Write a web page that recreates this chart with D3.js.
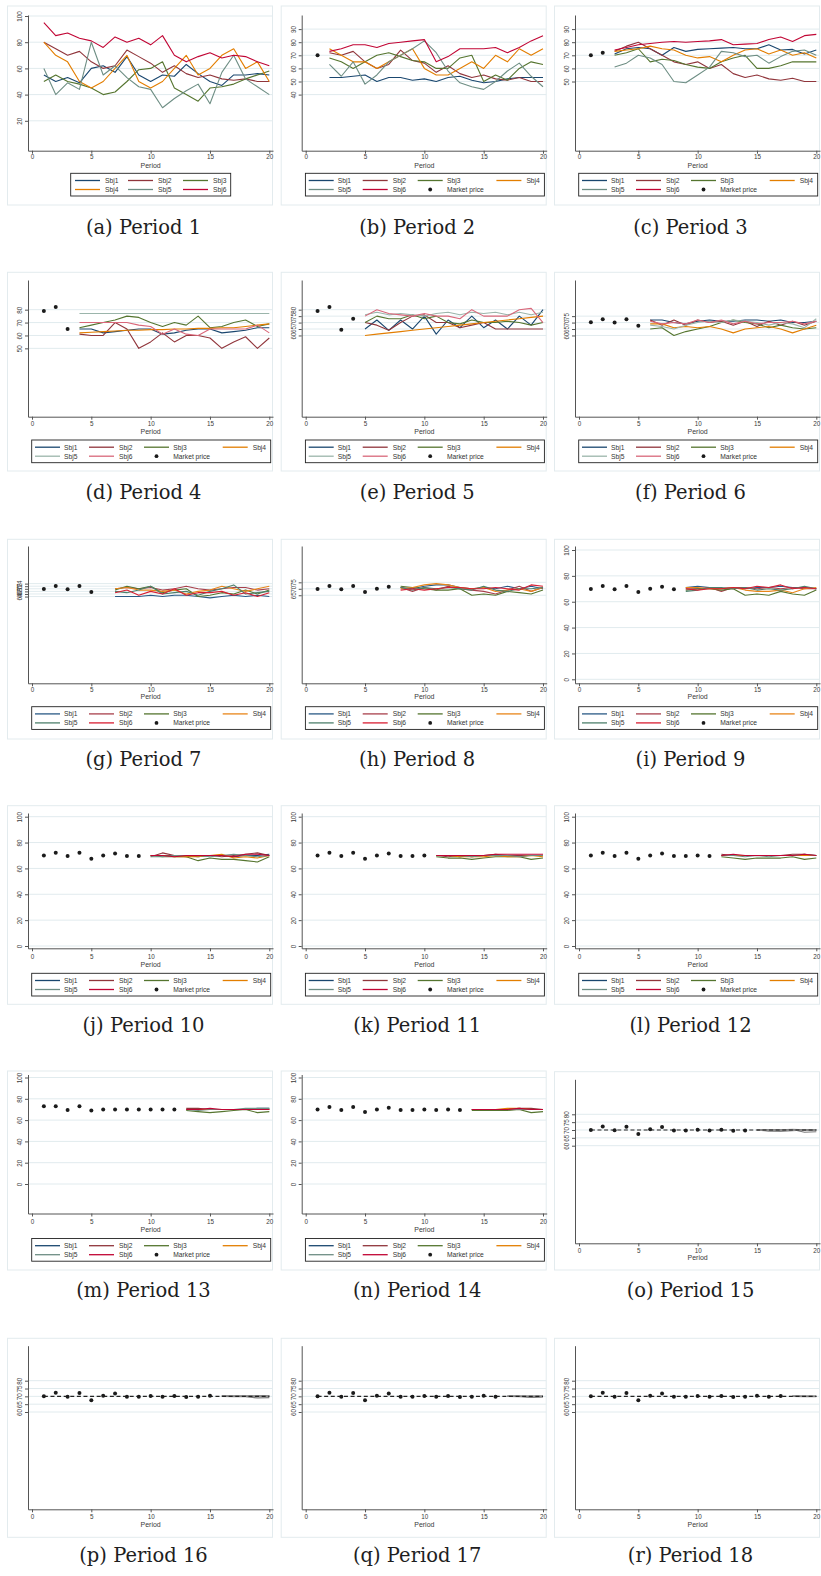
<!DOCTYPE html>
<html><head><meta charset="utf-8">
<script src="https://cdn.jsdelivr.net/npm/d3@7"></script>
<style>body{margin:0;background:#fff} svg{display:block}</style>
</head><body>
<svg id="chart" width="821" height="1576"></svg>
<script>
// ---------------- DATA ----------------
const subjects = ["Sbj1","Sbj2","Sbj3","Sbj4","Sbj5","Sbj6"];
const marketLabel = "Market price";
const xTicks = [0,5,10,15,20];
const equilibriumPrice = 70;

// Period 1 (subjects from period 1)
const period1 = [
  [55,50,53,49,60,62,57,69,55,50,55,54,63,56,50,47,55,55,56,55],
  [80,75,70,73,65,60,62,74,69,64,57,62,56,53,55,52,51,52,50,50],
  [50,55,50,48,45,40,42,50,59,60,65,45,40,35,45,46,48,52,55,58],
  [80,70,65,50,45,50,60,70,50,45,50,60,70,55,60,70,75,60,65,50],
  [60,40,49,44,80,55,62,53,46,44,30,37,43,48,33,57,70,52,46,40],
  [95,85,87,83,81,76,84,80,83,78,85,70,65,69,72,68,70,69,65,62]
];
const market1 = [];
const yTicks1 = [20,40,60,80,100];

const period2 = [
  [53,53,54,55,50,53,53,51,52,50,53,54,51,49,50,52,53,53,53],
  [72,70,73,65,60,63,74,66,64,57,62,56,53,55,52,51,53,50,50],
  [68,65,60,65,70,72,69,66,65,60,60,68,70,50,55,51,60,65,63],
  [75,70,65,65,60,65,70,75,60,55,55,60,65,60,70,65,75,70,75],
  [63,54,65,48,55,65,70,75,81,72,58,49,46,44,50,58,64,54,46],
  [73,75,78,78,76,79,80,81,82,65,69,75,75,75,76,72,76,81,85]
];
const market2 = [70];
const yTicks2 = [40,50,60,70,80,90];

const period3 = [
  [71,75,76,75,70,76,73,74.5,75,75.5,76,75,75,78,74,74.5,71,74],
  [73,77,80,75,70,65,63,65,60,63,56,53,55,52,51,52.5,50,50],
  [70,72,75,65,67,66,63,61,60,65,68,70,60,60,62,65,65,65],
  [73,74,75,77,75,74,70,68,69,65,70,74,75,71,74,70,72,68],
  [61,64,70,68,63,50,49,55,61,73,72,69,70,64,69,73,74,70],
  [74,76,78,79,80,80.5,80,80.5,81,82,78,78.5,79,82,84,80.5,85,86]
];
const market3 = [70,72];
const yTicks3 = [50,60,70,80,90];

const period4 = [
  [65,65,62,63,64,65,65,61,62,64,65,65,62,63,64,66,66],
  [61,60,60,70,65,50,55,62,55,60,60,58,50,55,59,50,58],
  [66,68,70,72,75,74,70,67,70,68,75,66,67,70,72,67,69],
  [62,62.5,63,63.5,64,64,64.5,64.5,65,65,65.5,65.5,66,66,67,68,69],
  [77,77,77,77,77,77,77,77,77,77,77,77,77,77,77,77,77],
  [70,70,70,70,70,68,67,61,65,61,60,65,65,65,65,68,62]
];
const market4 = [79,82,65];
const yTicks4 = [50,60,70,80];

const period5 = [
  [65,72,64,72,65,75,61,72,66,75,66,72,65,75,68,80],
  [70,68,64,70,75,76,70,70,66,68,70,65,65,65,65,65],
  [70,75,73,73,76,73,75,70,69,72,70,70,71,70,68,70],
  [60,61,62,63,64,65,66,67,68,69,70,71,72,73,74,75],
  [76,78,76,77,76,75,77,78,76,78,77,78,76,78,76,78],
  [75,80,77,76,75,77,75,75,73,80,75,75,75,80,81,70]
];
const market5 = [79,82,64.5,73];
const yTicks5 = [60,65,70,75,80];

const period6 = [
  [72,72,70,69,71,72,71,71,72,72,71,72,70,70,71],
  [72,68,72,68,72,70,71,68,71,67,71,68,71,68,71],
  [65,66,60,63,65,67,70,72,70,69,66,68,66,65,66],
  [69,69,66,67,66,67,65,62,65,66,67,65,62,65,68],
  [68,67,65,68,70,71,70,72,71,70,68,70,69,66,73],
  [71,69,70,69,72,70,72,69,71,69,70,70,71,69,71]
];
const market6 = [70.3,72.6,70,72.6,67.6];
const yTicks6 = [60,65,70,75];

const period7 = [
  [64,64,64,65,64,65,65,64,63,64,65,64,65,64],
  [70,71,70,71,69,70,72,70,69,70,71,71,69,70],
  [69,72,70,72,67,69,70,64,65,67,66,69,66,69],
  [70,71,69,69,68,69,66,68,69,72,70,68,70,72],
  [68,67,69,72,66,67,68,65,68,70,73,66,67,68],
  [67,69,65,68,66,70,65,67,67,68,65,67,64,67]
];
const market7 = [69.8,72.2,69.6,72.2,67.5];
const yTicks7 = [64,66,68,70,72,74];

const period8 = [
  [71,70,72,73,73,71,70,71,70,72,70,72,70],
  [71,68,71,69,72,70,69,68,66,69,72,68,71],
  [72,71,70,69,69,70,65,66,65,68,67,66,69],
  [70,71,73,74,73,71,70,71,68,69,70,68,71],
  [71,69,71,70,71,70,69,72,69,68,70,70,71],
  [69,70,69,70,71,71,70,70,71,70,69,73,72]
];
const market8 = [69.8,72.2,69.6,72.2,67.5,70,71.6];
const yTicks8 = [65,70,75];

const period9 = [
  [71,72,71,70,71,70,71,71,72,71,71,70],
  [70,70,71,68,71,71,70,71,70,71,70,70],
  [69,70,70,69,70,65,66,65,68,66,65,69],
  [71,71,70,70,71,69,68,68,69,67,70,71],
  [68,69,71,71,70,71,69,70,69,70,72,70],
  [70,69,70,70,71,70,72,71,73,70,71,70]
];
const market9 = [69.8,72.2,69.6,72.2,67.5,70,71.6,69.6];
const yTicksFull = [0,20,40,60,80,100];

const period10 = [
  [70,70,70,70,69,70,70,69,70,70,71],
  [69,72,70,69,70,70,69,70,71,72,70],
  [70,69,69,69,66,68,67,67,66,65,69],
  [70,70,69,69,69,70,71,68,69,68,70],
  [69,69,70,70,70,69,70,71,70,69,70],
  [70,70,69,70,70,70,70,69,71,71,70]
];
const market10 = [70,72.2,69.6,72.2,67.5,70,71.6,69.6,69.6];

const period11 = [
  [70,70,69,70,70,70,70,70,70,70],
  [70,69,70,69,70,71,70,70,70,70],
  [69,68,68,67,68,69,69,69,67,68],
  [70,70,69,69,69,70,69,69,70,69],
  [70,70,70,69,70,70,70,69,70,70],
  [70,70,70,70,70,71,71,71,71,71]
];
const market11 = [70,72.2,69.6,72.2,67.5,70,71.6,69.6,69.6,70];

const period12 = [
  [70,70,70,70,70,70,70,70,70],
  [71,70,70,70,70,70,71,71,70],
  [69,68,67,68,68,68,69,67,68],
  [70,70,70,70,70,70,70,70,70],
  [70,70,69,70,69,70,70,71,70],
  [70,71,70,70,70,70,70,71,70]
];
const market12 = [70,72.2,69.6,72.2,67.5,70,71.6,69.6,69.6,70,69.6];

const period13 = [
  [70,70,70,70,70,70,71,71],
  [71,71,70,70,70,70,70,70],
  [69,68,67,68,69,70,67,68],
  [70,70,70,70,70,70,70,70],
  [70,69,70,70,70,71,71,71],
  [70,70,71,70,70,70,70,70]
];
const market13 = [73,73,69.6,73,69,70,70,70,70,70,70,70];

const period14 = [
  [70,70,70,70,70,70,70],
  [70,70,70,70,71,71,70],
  [69,69,69,69,70,67,68],
  [70,70,70,71,71,70,70],
  [70,70,70,70,70,70,70],
  [70,70,70,70,71,70,70]
];
const market14 = [70,72.2,69.6,72.2,67.5,70,71.6,69.6,69.6,70,69.6,70,69.6];

const period15 = [
  [70,69.6,69.7,70.1,70.2,70],
  [70,69.2,69,69.6,70,69.8],
  [69.8,69.8,70,70.3,68.6,68.9],
  [70.2,70,70.1,70.4,70.1,70],
  [70,70,69.9,70,69.8,70.2],
  [70.1,70.2,70.2,70.3,70.1,70.1]
];
const market15 = [70,72.3,69.8,72.1,67.5,70.4,71.9,69.7,69.7,70.2,69.7,70.2,69.6,69.7];
const yTicksTall = [60,65,70,75,80];

const period16 = [
  [70.2,70.1,70,70.1,70.2],
  [70,69.8,69.7,69.6,69.9],
  [70.3,70.1,70,68.9,69.2],
  [69.9,70,70.2,70.1,70],
  [70.2,70.3,70.4,70.2,70.3],
  [70,70,70,70.3,70.2]
];
const market16 = [70,72.3,69.8,72.1,67.5,70.4,71.9,69.7,69.7,70.2,69.7,70.2,69.6,69.7,70.4];

const period17 = [
  [70.1,70,70,70.1],
  [69.9,69.8,69.5,69.8],
  [70.2,70.1,69.3,69.6],
  [70,70.1,70,70],
  [70.2,70.3,70.1,70.2],
  [70,69.9,70.1,70.1]
];
const market17 = [70,72.3,69.8,72.1,67.5,70.4,71.9,69.7,69.7,70.2,69.7,70.2,69.6,69.7,70.4,69.8];

const period18 = [
  [70.1,70,70.1],
  [69.9,69.7,69.8],
  [70.2,70.1,69.9],
  [70,70.1,70],
  [70.2,70.2,70.1],
  [70,69.9,70]
];
const market18 = [70,72.3,69.8,72.1,67.5,70.4,71.9,69.7,69.7,70.2,69.7,70.2,69.6,69.7,70.4,69.8,70.2];

const captions = ["(a) Period 1","(b) Period 2","(c) Period 3","(d) Period 4","(e) Period 5","(f) Period 6",
  "(g) Period 7","(h) Period 8","(i) Period 9","(j) Period 10","(k) Period 11","(l) Period 12",
  "(m) Period 13","(n) Period 14","(o) Period 15","(p) Period 16","(q) Period 17","(r) Period 18"];

// --------------- STYLE / LAYOUT ---------------
const paletteA = ["#1a476f","#90353b","#55752f","#e37e00","#6e8e84","#c10534"];
const paletteB = ["#1a476f","#90353b","#55752f","#e37e00","#9bb5ab","#d9677a"];
const paletteC = ["#2a5a86","#a8404c","#55752f","#e8861a","#4e806c","#d81e32"];
const grayPalette = ["#6a6a6a","#8a8a8a","#7a7a7a","#a0a0a0","#959595","#808080"];

const panels = [
  {s:period1, m:market1, t:yTicks1, start:1, pal:paletteA, leg:3},
  {s:period2, m:market2, t:yTicks2, start:2, pal:paletteA, leg:4},
  {s:period3, m:market3, t:yTicks3, start:3, pal:paletteA, leg:4},
  {s:period4, m:market4, t:yTicks4, start:4, pal:paletteB, leg:4},
  {s:period5, m:market5, t:yTicks5, start:5, pal:paletteB, leg:4},
  {s:period6, m:market6, t:yTicks6, start:6, pal:paletteB, leg:4},
  {s:period7, m:market7, t:yTicks7, start:7, pal:paletteC, leg:4},
  {s:period8, m:market8, t:yTicks8, start:8, pal:paletteC, leg:4},
  {s:period9, m:market9, t:yTicksFull, start:9, pal:paletteC, leg:4},
  {s:period10, m:market10, t:yTicksFull, start:10, pal:paletteA, leg:4},
  {s:period11, m:market11, t:yTicksFull, start:11, pal:paletteA, leg:4},
  {s:period12, m:market12, t:yTicksFull, start:12, pal:paletteA, leg:4},
  {s:period13, m:market13, t:yTicksFull, start:13, pal:paletteA, leg:4},
  {s:period14, m:market14, t:yTicksFull, start:14, pal:paletteA, leg:4},
  {s:period15, m:market15, t:yTicksTall, start:15, pal:grayPalette, leg:0},
  {s:period16, m:market16, t:yTicksTall, start:16, pal:grayPalette, leg:0},
  {s:period17, m:market17, t:yTicksTall, start:17, pal:grayPalette, leg:0},
  {s:period18, m:market18, t:yTicksTall, start:18, pal:grayPalette, leg:0}
];

const colX = [0, 273.7, 547];
const rowGeom = [
 {regionTop:6, y100:16, y0:147, axisTop:15, axisBot:150.7, tickY:156.7, periodY:165, legTop:173.3, regionBot:205, capBase:234.3},
 {regionTop:272.3, y100:283.9, y0:412.8, axisTop:280, axisBot:416.7, tickY:424.3, periodY:431.7, legTop:440, regionBot:471, capBase:499.3},
 {regionTop:539.3, y100:550, y0:679.3, axisTop:546, axisBot:683.3, tickY:690, periodY:696.7, legTop:706.7, regionBot:739, capBase:766},
 {regionTop:805.7, y100:816.7, y0:946, axisTop:813, axisBot:948.3, tickY:956.7, periodY:964.3, legTop:973.3, regionBot:1004.3, capBase:1031.6},
 {regionTop:1071, y100:1077.5, y0:1184, axisTop:1074.5, axisBot:1213.5, tickY:1222, periodY:1229.5, legTop:1238.5, regionBot:1270, capBase:1296.6}
];
const tallGeom5 = {regionTop:1071.7, y100:1082.9, y0:1239.9, axisTop:1079.3, axisBot:1243.3, tickY:1250.7, periodY:1257, regionBot:1270, capBase:1296.6};
const tallGeom6 = {regionTop:1338.3, y100:1349.4, y0:1505.9, axisTop:1345.7, axisBot:1509.3, tickY:1517.3, periodY:1524.3, regionBot:1537.3, capBase:1561.6};

const SANS = "'Liberation Sans', Arial, sans-serif";
const SERIF = "'DejaVu Serif', serif";
const svg = d3.select("#chart");

panels.forEach((p, i) => {
  const col = i % 3, row = Math.floor(i / 3);
  const ox = colX[col];
  const g = p.leg === 0 ? (row === 4 ? tallGeom5 : tallGeom6) : rowGeom[row];
  const G = svg.append("g").attr("transform", `translate(${ox},0)`);

  // graph region box
  G.append("rect").attr("x", 7.5).attr("y", g.regionTop).attr("width", 265)
    .attr("height", g.regionBot - g.regionTop).attr("fill", "#fff")
    .attr("stroke", "#e3ebee").attr("stroke-width", 1);

  const y = d3.scaleLinear().domain([0, 100]).range([g.y0, g.y100]);
  const x = d3.scaleLinear().domain([0, 20]).range([32, 269.3]);
  const yAx = d3.scaleLinear().domain([y.invert(g.axisBot), y.invert(g.axisTop)]).range([g.axisBot, g.axisTop]);
  const xAx = d3.scaleLinear().domain([x.invert(28), x.invert(273)]).range([28, 273]);

  // gridlines
  G.append("g").selectAll("line").data(p.t).join("line")
    .attr("x1", 28).attr("x2", 272.5)
    .attr("y1", d => y(d)).attr("y2", d => y(d))
    .attr("stroke", "#e1ebee").attr("stroke-width", 1);

  // subject lines
  const line = d3.line().x((d, k) => x(p.start + k)).y(d => y(d));
  G.append("g").selectAll("path").data(p.s).join("path")
    .attr("d", d => line(d)).attr("fill", "none")
    .attr("stroke", (d, k) => p.pal[k]).attr("stroke-width", 1.1)
    .attr("stroke-linejoin", "round");

  // dashed reference line (tall panels)
  if (p.leg === 0) {
    G.append("line").attr("x1", x(1)).attr("x2", x(20))
      .attr("y1", y(equilibriumPrice)).attr("y2", y(equilibriumPrice))
      .attr("stroke", "#222").attr("stroke-width", 1.1).attr("stroke-dasharray", "4,2.6");
  }

  // market price dots
  G.append("g").selectAll("circle").data(p.m).join("circle")
    .attr("cx", (d, k) => x(k + 1)).attr("cy", d => y(d)).attr("r", 2)
    .attr("fill", "#1b1b1b");

  // y axis
  const ya = G.append("g").attr("transform", "translate(28,0)")
    .call(d3.axisLeft(yAx).tickValues(p.t).tickSize(3).tickSizeOuter(0).tickFormat(d3.format("d")));
  ya.select(".domain").attr("stroke", "#555").attr("stroke-width", 1);
  ya.selectAll(".tick line").attr("stroke", "#555");
  ya.selectAll(".tick text").attr("transform", "rotate(-90)")
    .attr("x", 0).attr("y", -5.6).attr("dy", 0).attr("text-anchor", "middle")
    .attr("font-family", SANS).attr("font-size", 6.3).attr("fill", "#3a3a3a");

  // x axis
  const xa = G.append("g").attr("transform", `translate(0,${g.axisBot})`)
    .call(d3.axisBottom(xAx).tickValues(xTicks).tickSize(3).tickSizeOuter(0));
  xa.select(".domain").attr("stroke", "#555").attr("stroke-width", 1);
  xa.selectAll(".tick line").attr("stroke", "#555");
  xa.selectAll(".tick text").attr("y", g.tickY - g.axisBot + 2.2).attr("dy", 0)
    .attr("font-family", SANS).attr("font-size", 6.3).attr("fill", "#3a3a3a");
  G.append("text").attr("x", x(10)).attr("y", g.periodY + 2.5).attr("text-anchor", "middle")
    .attr("font-family", SANS).attr("font-size", 7).attr("fill", "#3a3a3a").text("Period");

  // legend
  if (p.leg > 0) {
    const L = G.append("g");
    const lt = g.legTop;
    let items, boxX0, boxX1, lineX, labX;
    if (p.leg === 3) {
      boxX0 = 70.7; boxX1 = 230.7;
      lineX = [75, 128, 183]; labX = [105, 158, 213];
      items = subjects.map((s, k) => ({name: s, col: k % 3, row: Math.floor(k / 3), color: p.pal[k]}));
    } else {
      boxX0 = 31.7; boxX1 = 270.7;
      lineX = [35, 89, 144, 222.7]; labX = [64, 119, 173.3, 252.7];
      items = subjects.map((s, k) => ({name: s, col: k % 4, row: Math.floor(k / 4), color: p.pal[k]}));
      items.push({name: marketLabel, col: 2, row: 1, dot: true});
    }
    L.append("rect").attr("x", boxX0).attr("y", lt).attr("width", boxX1 - boxX0).attr("height", 22.7)
      .attr("fill", "#fff").attr("stroke", "#222").attr("stroke-width", 0.9);
    const rowY = [lt + 7.2, lt + 16.2];
    items.forEach(it => {
      const yy = rowY[it.row];
      if (it.dot) {
        L.append("circle").attr("cx", lineX[it.col] + 12.5).attr("cy", yy).attr("r", 1.9).attr("fill", "#1b1b1b");
      } else {
        L.append("line").attr("x1", lineX[it.col]).attr("x2", lineX[it.col] + 25)
          .attr("y1", yy).attr("y2", yy).attr("stroke", it.color).attr("stroke-width", 1.3);
      }
      L.append("text").attr("x", labX[it.col]).attr("y", yy + 2.3)
        .attr("font-family", SANS).attr("font-size", 6.7).attr("fill", "#333").text(it.name);
    });
  }

  // caption
  svg.append("text").attr("x", ox + 143.5).attr("y", g.capBase).attr("text-anchor", "middle")
    .attr("font-family", SERIF).attr("font-size", 19.5).attr("fill", "#1e1e1e").text(captions[i]);
});
</script>
</body></html>
